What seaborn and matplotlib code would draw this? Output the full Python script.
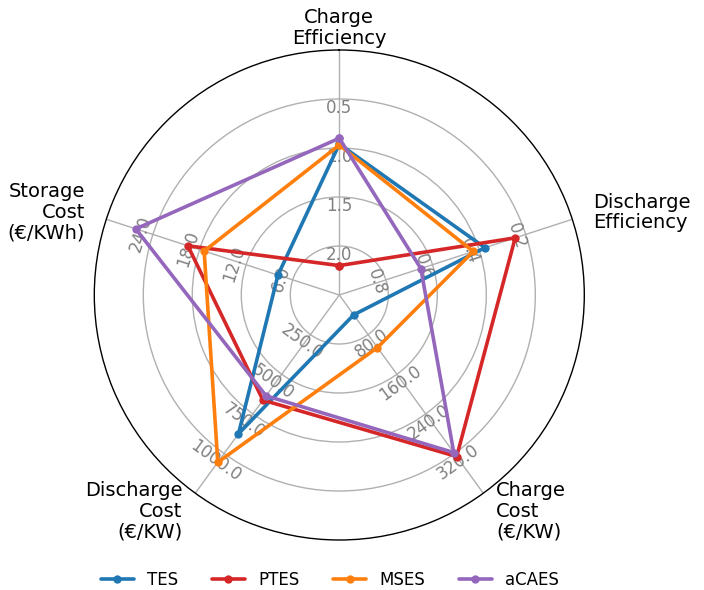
import numpy as np
import pandas as pd
import matplotlib
matplotlib.use("Agg")
import matplotlib.pyplot as plt
from matplotlib.transforms import offset_copy
import seaborn as sns

# ---- data ----
categories = ["Charge\nEfficiency", "Discharge\nEfficiency", "Charge\nCost\n(€/KW)",
              "Discharge\nCost\n(€/KW)", "Storage\nCost\n(€/KWh)"]
systems = ["TES", "PTES", "MSES", "aCAES"]
colors = ["#1f77b4", "#d62728", "#ff7f0e", "#9467bd"]

# axis ranges (value at centre, value at outer circle)
axis_ranges = [(2.5, 0.0), (1.0, 0.0), (0.0, 400.0), (0.0, 1250.0), (0.0, 30.0)]

tes = [0.96, 0.375, 40.0, 875.0, 7.9]
ptes = [2.2, 0.245, 326.0, 663.0, 19.5]
mses = [0.97, 0.425, 106.0, 1055.0, 17.4]
acaes = [0.90, 0.65, 318.0, 636.0, 26.2]
series_values = [tes, ptes, mses, acaes]

grid_levels = [0.2, 0.4, 0.6, 0.8]

sns.set_theme(style="white")
plt.rcParams["font.family"] = ["DejaVu Sans"]
plt.rcParams["text.color"] = "black"

n = len(categories)
thetas = np.arange(n) * 2 * np.pi / n


def to_r(v, rng):
    lo, hi = rng
    return (v - lo) / (hi - lo)


rows = []
for name, vals in zip(systems, series_values):
    rs = [to_r(v, rng) for v, rng in zip(vals, axis_ranges)]
    for k in range(n + 1):
        rows.append({"system": name, "theta": (thetas[k % n] if k < n else 2 * np.pi),
                     "r": rs[k % n]})
df = pd.DataFrame(rows)

fig = plt.figure(figsize=(7.04, 5.9), dpi=100)
cx, cy, R = 339.3, 295.0, 245.0
ax = fig.add_axes([(cx - R) / 704, (590 - cy - R) / 590, 2 * R / 704, 2 * R / 590],
                  projection="polar")
ax.set_theta_offset(np.pi / 2)
ax.set_theta_direction(-1)
ax.set_ylim(0, 1)
ax.set_xticks(thetas)
ax.set_xticklabels([])
ax.set_yticks(grid_levels)
ax.set_yticklabels([])
ax.grid(True, color="#b0b0b0", linewidth=1.0)
ax.spines["polar"].set_color("black")
ax.spines["polar"].set_linewidth(1.0)
ax.set_axisbelow(True)

sns.lineplot(data=df, x="theta", y="r", hue="system", hue_order=systems,
             palette=colors, sort=False, estimator=None, marker="o",
             markersize=6, markeredgewidth=0, linewidth=2.6, ax=ax, legend=True)
ax.set_xlabel("")
ax.set_ylabel("")

# radial tick labels along each axis (pixel offsets: along spoke, along text baseline)
label_shift = [(-9.0, 0.0), (-9.3, -1.1), (9.0, -2.2), (11.0, -2.9), (11.5, -2.7)]
for i, (th, rng) in enumerate(zip(thetas, axis_ranges)):
    a = 90 - np.degrees(th)
    rot = ((a - 90) + 90) % 180 - 90
    along, perp = label_shift[i]
    dx = along * np.cos(np.radians(a)) + perp * np.cos(np.radians(rot))
    dy = along * np.sin(np.radians(a)) + perp * np.sin(np.radians(rot))
    tr = offset_copy(ax.transData, fig=fig, x=dx, y=dy, units="dots")
    lo, hi = rng
    for g in grid_levels:
        val = lo + g * (hi - lo)
        ax.text(th, g, f"{val:.1f}", rotation=rot, rotation_mode="anchor",
                ha="center", va="center", color="#808080", fontsize=12,
                zorder=1, transform=tr)

# category labels
for th, lab in zip(thetas, categories):
    a = (90 - np.degrees(th)) % 360
    if abs(a - 90) < 1:
        ha = "center"
    elif a < 90 or a > 270:
        ha = "left"
    else:
        ha = "right"
    ax.text(th, 1.09, lab, ha=ha, va="center", fontsize=14, color="black",
            linespacing=1.1, clip_on=False)

handles, labels = ax.get_legend_handles_labels()
if ax.get_legend() is not None:
    ax.get_legend().remove()
fig.legend(handles, labels, loc="center", bbox_to_anchor=(330 / 704, 1 - 580 / 590),
           ncol=4, frameon=False, fontsize=12, labelcolor="black")

fig.savefig("out.png", dpi=100)
